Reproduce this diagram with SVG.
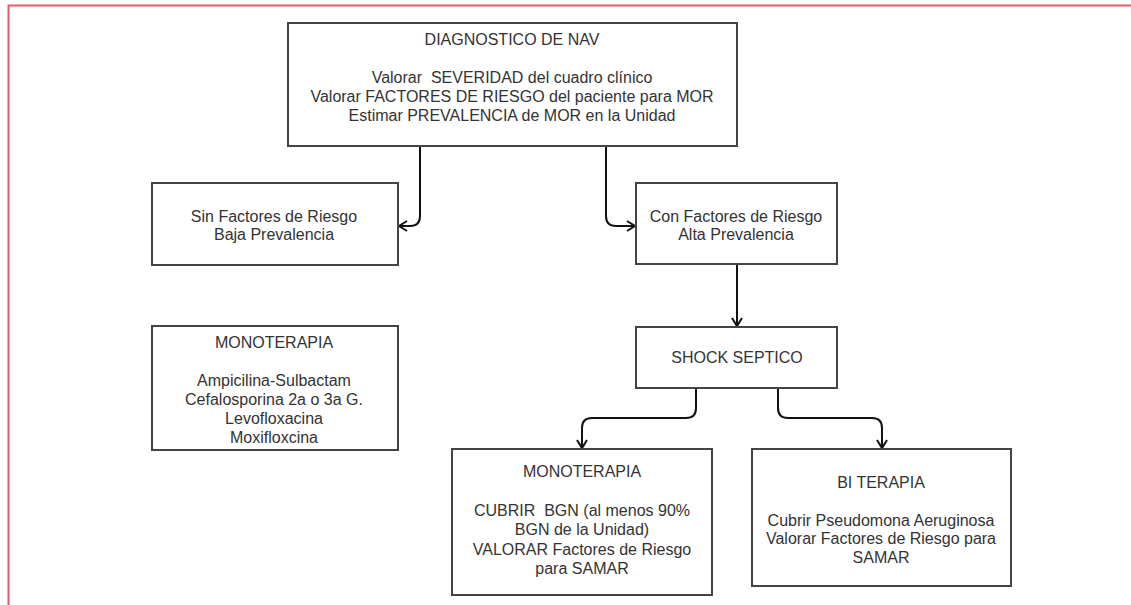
<svg xmlns="http://www.w3.org/2000/svg" width="1131" height="605" viewBox="0 0 1131 605">
<defs>
<style>
.box{fill:#fff;stroke:#444;stroke-width:2}
.t{font-family:"Liberation Sans",Arial,sans-serif;font-size:16px;fill:#333;text-anchor:middle;white-space:pre}
.c{fill:none;stroke:#111;stroke-width:2}
.frame{fill:none;stroke:#e8586e;stroke-width:2}
</style>
<marker id="arr" markerWidth="12" markerHeight="12" viewBox="0 0 12 12" refX="10" refY="6" orient="auto" markerUnits="userSpaceOnUse">
<path d="M2,1 L10,6 L2,11" fill="none" stroke="#111" stroke-width="2"/>
</marker>
</defs>
<rect width="1131" height="605" fill="#fff"/>
<path class="frame" d="M8.5,605 L8.5,5.5 L1131,5.5"/>

<g id="connectors">
<path class="c" marker-end="url(#arr)" d="M420,146 L420,216 Q420,226 410,226 L399,226"/>
<path class="c" marker-end="url(#arr)" d="M606,146 L606,216 Q606,226 616,226 L635,226"/>
<path class="c" marker-end="url(#arr)" d="M737,264 L737,326"/>
<path class="c" marker-end="url(#arr)" d="M696,388 L696,408 Q696,418 686,418 L592,418 Q582,418 582,428 L582,448"/>
<path class="c" marker-end="url(#arr)" d="M778,388 L778,408 Q778,418 788,418 L872,418 Q882,418 882,428 L882,448"/>
</g>

<g id="diagnostico">
<rect class="box" x="288" y="23" width="449" height="123"/>
<text class="t" x="512" y="45">DIAGNOSTICO DE NAV</text>
<text class="t" x="512" y="83" xml:space="preserve">Valorar  SEVERIDAD del cuadro clínico</text>
<text class="t" x="512" y="102">Valorar FACTORES DE RIESGO del paciente para MOR</text>
<text class="t" x="512" y="121">Estimar PREVALENCIA de MOR en la Unidad</text>
</g>

<g id="sin">
<rect class="box" x="152" y="183" width="246" height="82"/>
<text class="t" x="274" y="222">Sin Factores de Riesgo</text>
<text class="t" x="274" y="240">Baja Prevalencia</text>
</g>

<g id="con">
<rect class="box" x="636" y="183" width="201" height="81"/>
<text class="t" x="736" y="222">Con Factores de Riesgo</text>
<text class="t" x="736" y="240">Alta Prevalencia</text>
</g>

<g id="monoterapia1">
<rect class="box" x="152" y="326" width="246" height="124"/>
<text class="t" x="274" y="348">MONOTERAPIA</text>
<text class="t" x="274" y="386">Ampicilina-Sulbactam</text>
<text class="t" x="274" y="405">Cefalosporina 2a o 3a G.</text>
<text class="t" x="274" y="424">Levofloxacina</text>
<text class="t" x="274" y="443">Moxifloxcina</text>
</g>

<g id="shock">
<rect class="box" x="636" y="327" width="201" height="61"/>
<text class="t" x="737" y="363">SHOCK SEPTICO</text>
</g>

<g id="monoterapia2">
<rect class="box" x="452" y="449" width="260" height="146"/>
<text class="t" x="582" y="477">MONOTERAPIA</text>
<text class="t" x="582" y="516" xml:space="preserve">CUBRIR  BGN (al menos 90%</text>
<text class="t" x="582" y="535">BGN de la Unidad)</text>
<text class="t" x="582" y="555">VALORAR Factores de Riesgo</text>
<text class="t" x="582" y="574">para SAMAR</text>
</g>

<g id="biterapia">
<rect class="box" x="752" y="449" width="259" height="137"/>
<text class="t" x="881" y="488">BI TERAPIA</text>
<text class="t" x="881" y="526">Cubrir Pseudomona Aeruginosa</text>
<text class="t" x="881" y="544">Valorar Factores de Riesgo para</text>
<text class="t" x="881" y="563">SAMAR</text>
</g>
</svg>
